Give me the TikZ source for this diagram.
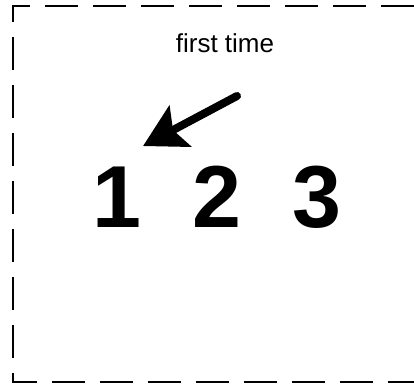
\documentclass[tikz,border=0pt]{standalone}
\usepackage{fontspec}
\setmainfont{Liberation Sans}
\usetikzlibrary{arrows.meta,positioning}

\begin{document}
\begin{tikzpicture}[
    x=0.5pt, y=0.5pt,
    frame/.style={line width=1pt, dash pattern=on 16.5pt off 7.5pt},
    lbl/.style={font=\fontsize{13}{15}\selectfont, inner sep=0pt},
    digit/.style={font=\fontsize{44}{48}\selectfont\bfseries, inner sep=0pt, anchor=base},
    arr/.style={-{Stealth[length=21pt, width=23pt, inset=4pt]}, line width=4pt, line cap=round},
]
\useasboundingbox (0,0) rectangle (414,385);

% Dashed frame, open on the right
\draw[frame] (414,379) -- (13,379) -- (13,3) -- (414,3);

% Top label
\node[lbl] (caption) at (225,342) {first time};

% Digits
\node[digit] (n1) at (117,157) {1};
\node[digit] (n2) at (217,157) {2};
\node[digit] (n3) at (317,157) {3};

% Pointer to the first digit
\coordinate (tail) at (237,289);
\coordinate (tip) at ([shift={(26,21)}]n1.north);
\draw[arr] (tail) -- (tip);
\end{tikzpicture}
\end{document}
